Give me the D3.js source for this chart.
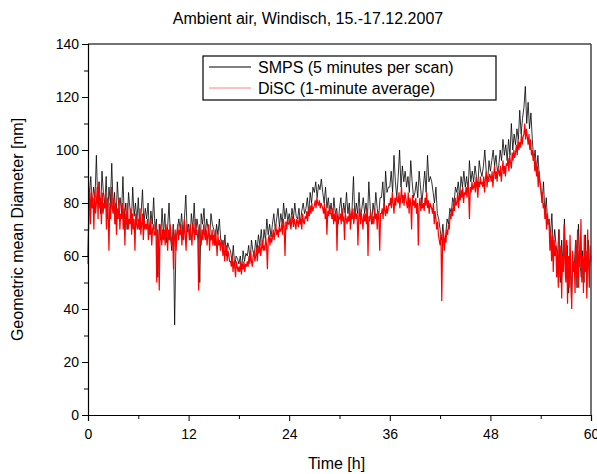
<!DOCTYPE html>
<html>
<head>
<meta charset="utf-8">
<script src="https://cdn.jsdelivr.net/npm/d3@7"></script>
<style>
  body { margin: 0; background: #fff; }
  text { font-family: "Liberation Sans", Arial, sans-serif; fill: #000; }
</style>
</head>
<body>
<svg id="chart" width="597" height="474"></svg>
<script>
// SMPS geometric mean diameter, 6 values per hour (every 10 min), 0..60 h
const smps = [
  60, 84, 90, 78, 86, 82,  98, 80, 88, 76, 92, 84,  79, 90, 74, 86, 80, 95,
  78, 84, 72, 88, 79, 82,  76, 90, 74, 80, 70, 84,  78, 72, 86, 75, 80, 73,
  82, 70, 76, 85, 72, 78,  74, 80, 68, 77, 72, 82,  70, 74, 52, 72, 66, 78,
  68, 76, 65, 71, 80, 67,  62, 72, 34, 66, 70, 74,  70, 76, 68, 74, 83, 69,
  72, 66, 76, 70, 80, 68,  74, 70, 50, 76, 72, 78,  68, 74, 70, 66, 76, 72,
  70, 64, 72, 68, 74, 66,  66, 62, 68, 60, 65, 63,  62, 58, 64, 56, 60, 59,
  57, 60, 55, 62, 58, 61,  60, 64, 58, 66, 62, 60,  66, 62, 68, 64, 70, 63,
  70, 66, 74, 68, 72, 67,  72, 76, 70, 74, 78, 71,  76, 72, 80, 74, 78, 73,
  76, 72, 78, 74, 80, 75,  74, 78, 72, 77, 80, 76,  78, 82, 76, 84, 80, 86,
  84, 88, 82, 87, 85, 89,  84, 80, 86, 78, 82, 76,  80, 74, 82, 76, 78, 72,
  78, 82, 74, 80, 76, 84,  76, 80, 72, 78, 90, 74,  80, 76, 84, 74, 78, 82,
  76, 80, 74, 88, 78, 72,  80, 76, 84, 78, 74, 82,  82, 88, 78, 92, 84, 86,
  86, 92, 84, 98, 88, 82,  90, 100, 86, 94, 88, 92, 86, 90, 84, 96, 88, 82,
  84, 88, 82, 92, 86, 80,  86, 92, 84, 98, 88, 90,  88, 84, 80, 86, 76, 74,
  70, 66, 72, 64, 68, 74,  72, 78, 76, 82, 80, 86,  84, 88, 82, 90, 86, 92,
  86, 90, 84, 96, 88, 92,  88, 94, 90, 86, 96, 92,  90, 94, 100, 92, 88, 96,
  92, 96, 100, 94, 98, 92, 94, 100, 96, 104, 98, 102, 96, 104, 98, 110, 100, 106,
  102, 108, 104, 115, 106, 112, 116, 124, 110, 118, 108, 114, 104, 96, 100, 92, 98, 90,
  86, 80, 88, 76, 82, 72,  74, 68, 76, 62, 70, 64,  60, 70, 50, 66, 56, 74,
  54, 64, 46, 60, 44, 58,  56, 66, 48, 72, 58, 52,  62, 50, 68, 48, 66, 56,
  60
];

// DiSC geometric mean diameter, 10 values per hour (every 6 min), 0..60 h
const disc = [
  57, 80, 84, 72, 86, 78, 82, 70, 84, 76,   80, 86, 74, 88, 78, 82, 72, 84, 76, 80,
  78, 84, 70, 82, 76, 62, 80, 74, 86, 78,   76, 82, 72, 80, 68, 78, 74, 82, 70, 76,
  74, 80, 70, 78, 64, 76, 72, 80, 70, 74,   72, 78, 68, 76, 70, 74, 62, 76, 72, 70,
  74, 70, 78, 68, 72, 76, 66, 74, 70, 72,   70, 74, 66, 72, 68, 74, 64, 70, 72, 68,
  68, 72, 50, 70, 66, 47, 72, 68, 64, 70,   66, 70, 64, 72, 68, 62, 70, 66, 72, 68,
  64, 68, 55, 66, 70, 62, 68, 72, 66, 70,   68, 72, 64, 70, 66, 74, 68, 62, 72, 70,
  70, 66, 72, 68, 64, 72, 70, 66, 74, 68,   70, 66, 47, 72, 68, 64, 70, 66, 72, 68,
  66, 70, 64, 68, 72, 62, 68, 66, 70, 64,   68, 64, 70, 66, 60, 68, 64, 66, 62, 66,
  64, 60, 66, 58, 62, 64, 58, 62, 60, 58,   58, 56, 60, 54, 58, 56, 52, 58, 56, 54,
  56, 54, 58, 53, 57, 55, 58, 54, 57, 56,   58, 56, 60, 57, 62, 58, 56, 60, 62, 58,
  60, 63, 58, 64, 61, 65, 60, 63, 66, 62,   64, 62, 67, 64, 55, 66, 68, 64, 67, 65,
  67, 70, 66, 69, 72, 68, 70, 67, 71, 69,   70, 72, 68, 74, 71, 60, 73, 70, 74, 72,
  72, 74, 70, 73, 75, 71, 74, 72, 70, 74,   73, 71, 75, 72, 74, 70, 76, 73, 72, 75,
  74, 77, 73, 78, 75, 79, 76, 80, 77, 78,   79, 81, 78, 82, 80, 79, 81, 78, 80, 79,
  78, 76, 80, 74, 78, 68, 77, 75, 79, 76,   76, 74, 78, 72, 76, 73, 77, 62, 75, 74,
  74, 76, 72, 78, 73, 75, 66, 76, 74, 72,   75, 73, 78, 70, 76, 74, 78, 72, 75, 77,
  74, 76, 64, 75, 78, 72, 76, 74, 70, 76,   73, 76, 72, 78, 60, 75, 73, 77, 74, 72,
  75, 72, 78, 74, 76, 70, 77, 74, 62, 76,   76, 78, 74, 80, 77, 75, 79, 76, 78, 80,
  79, 82, 78, 84, 80, 76, 82, 79, 83, 81,   80, 84, 78, 82, 86, 80, 83, 79, 84, 82,
  80, 78, 84, 76, 82, 80, 70, 83, 79, 81,   78, 82, 76, 80, 64, 79, 82, 77, 80, 78,
  80, 77, 82, 79, 84, 78, 81, 76, 80, 79,   78, 76, 80, 72, 77, 74, 70, 73, 68, 66,
  64, 68, 43, 66, 70, 62, 67, 65, 70, 68,   72, 70, 76, 74, 78, 75, 80, 77, 82, 79,
  80, 84, 78, 83, 81, 85, 82, 86, 80, 84,   83, 86, 82, 88, 84, 74, 86, 84, 88, 85,
  86, 88, 84, 90, 86, 82, 88, 86, 90, 87,   88, 86, 90, 84, 89, 92, 86, 90, 88, 91,
  90, 88, 92, 86, 91, 94, 89, 92, 88, 93,   92, 90, 94, 88, 92, 96, 91, 94, 90, 95,
  94, 97, 92, 98, 95, 93, 99, 96, 100, 97,  99, 102, 98, 104, 100, 103, 101, 106, 102, 105,
  106, 110, 104, 108, 105, 102, 106, 100, 104, 98,  100, 96, 98, 92, 96, 90, 94, 86, 92, 88,
  86, 82, 84, 78, 80, 74, 78, 70, 76, 72,   72, 62, 70, 58, 68, 54, 66, 60, 64, 52,
  62, 48, 70, 52, 64, 44, 60, 54, 72, 56,   50, 66, 42, 60, 48, 68, 52, 40, 62, 54,
  58, 46, 66, 52, 70, 48, 62, 56, 74, 50,   60, 46, 68, 54, 62, 44, 70, 58, 48, 64,
  58
];

const xTicks = [0, 12, 24, 36, 48, 60];
const yTicks = [0, 20, 40, 60, 80, 100, 120, 140];
const legendLabels = ['SMPS (5 minutes per scan)', 'DiSC (1-minute average)'];

const smpsData = smps.map((v, i) => ({ t: i / 6, v: v }));
const discData = disc.map((v, i) => ({ t: i / 10, v: v }));

const margin = { top: 44, right: 6, bottom: 59, left: 88 };
const width = 597 - margin.left - margin.right;
const height = 474 - margin.top - margin.bottom;

const svg = d3.select('#chart')
  .append('g')
  .attr('transform', `translate(${margin.left},${margin.top})`);

const x = d3.scaleLinear().domain([0, 60]).range([0, width]);
const y = d3.scaleLinear().domain([0, 140]).range([height, 0]);

const line = d3.line().x((d) => x(d.t)).y((d) => y(d.v));

svg.append('path')
  .datum(smpsData)
  .attr('fill', 'none')
  .attr('stroke', '#000')
  .attr('stroke-width', 0.8)
  .attr('d', line);

svg.append('path')
  .datum(discData)
  .attr('fill', 'none')
  .attr('stroke', '#ff0000')
  .attr('stroke-width', 1.2)
  .attr('d', line);

// frame (top and right)
svg.append('line')
  .attr('x1', 0).attr('x2', width).attr('y1', 0).attr('y2', 0)
  .attr('stroke', '#444').attr('stroke-width', 1.5);
svg.append('line')
  .attr('x1', width).attr('x2', width).attr('y1', 0).attr('y2', height)
  .attr('stroke', '#444').attr('stroke-width', 1.5);

// axes with minor ticks
const xAxis = svg.append('g')
  .attr('transform', `translate(0,${height})`)
  .call(d3.axisBottom(x).tickValues(d3.range(0, 61, 6)).tickSize(6)
    .tickFormat((d) => (xTicks.includes(d) ? d : '')));
xAxis.selectAll('.tick line').attr('y2', (d) => (xTicks.includes(d) ? 6 : 4));

const yAxis = svg.append('g')
  .call(d3.axisLeft(y).tickValues(d3.range(0, 141, 10)).tickSize(6)
    .tickFormat((d) => (yTicks.includes(d) ? d : '')));
yAxis.selectAll('.tick line').attr('x2', (d) => (yTicks.includes(d) ? -6 : -4));

[xAxis, yAxis].forEach((g) => {
  g.select('.domain').attr('stroke', '#000').attr('stroke-width', 1.2);
  g.selectAll('.tick line').attr('stroke', '#000');
  g.selectAll('.tick text').style('font-size', '14px')
    .style('font-family', '"Liberation Sans", Arial, sans-serif');
});
xAxis.selectAll('.tick text').attr('dy', '1.05em');
yAxis.selectAll('.tick text').attr('x', -9);

// titles
svg.append('text')
  .attr('x', 220)
  .attr('y', -20)
  .style('text-anchor', 'middle')
  .style('font-size', '16px')
  .text('Ambient air, Windisch, 15.-17.12.2007');

svg.append('text')
  .attr('x', width / 2 - 3)
  .attr('y', height + 54)
  .style('text-anchor', 'middle')
  .style('font-size', '16px')
  .text('Time [h]');

svg.append('text')
  .attr('transform', 'rotate(-90)')
  .attr('x', -height / 2)
  .attr('y', -65)
  .style('text-anchor', 'middle')
  .style('font-size', '16px')
  .text('Geometric mean Diameter [nm]');

// legend
const legend = svg.append('g').attr('transform', 'translate(115,12)');
legend.append('rect')
  .attr('width', 293).attr('height', 44)
  .attr('fill', '#fff').attr('stroke', '#000').attr('stroke-width', 1.2);
const legendColors = ['#000', '#ff8080'];
legendLabels.forEach((label, i) => {
  legend.append('line')
    .attr('x1', 6).attr('x2', 48)
    .attr('y1', 11 + i * 21).attr('y2', 11 + i * 21)
    .attr('stroke', legendColors[i]).attr('stroke-width', 1);
  legend.append('text')
    .attr('x', 55).attr('y', 17 + i * 21)
    .style('font-size', '16px')
    .text(label);
});
</script>
</body>
</html>
